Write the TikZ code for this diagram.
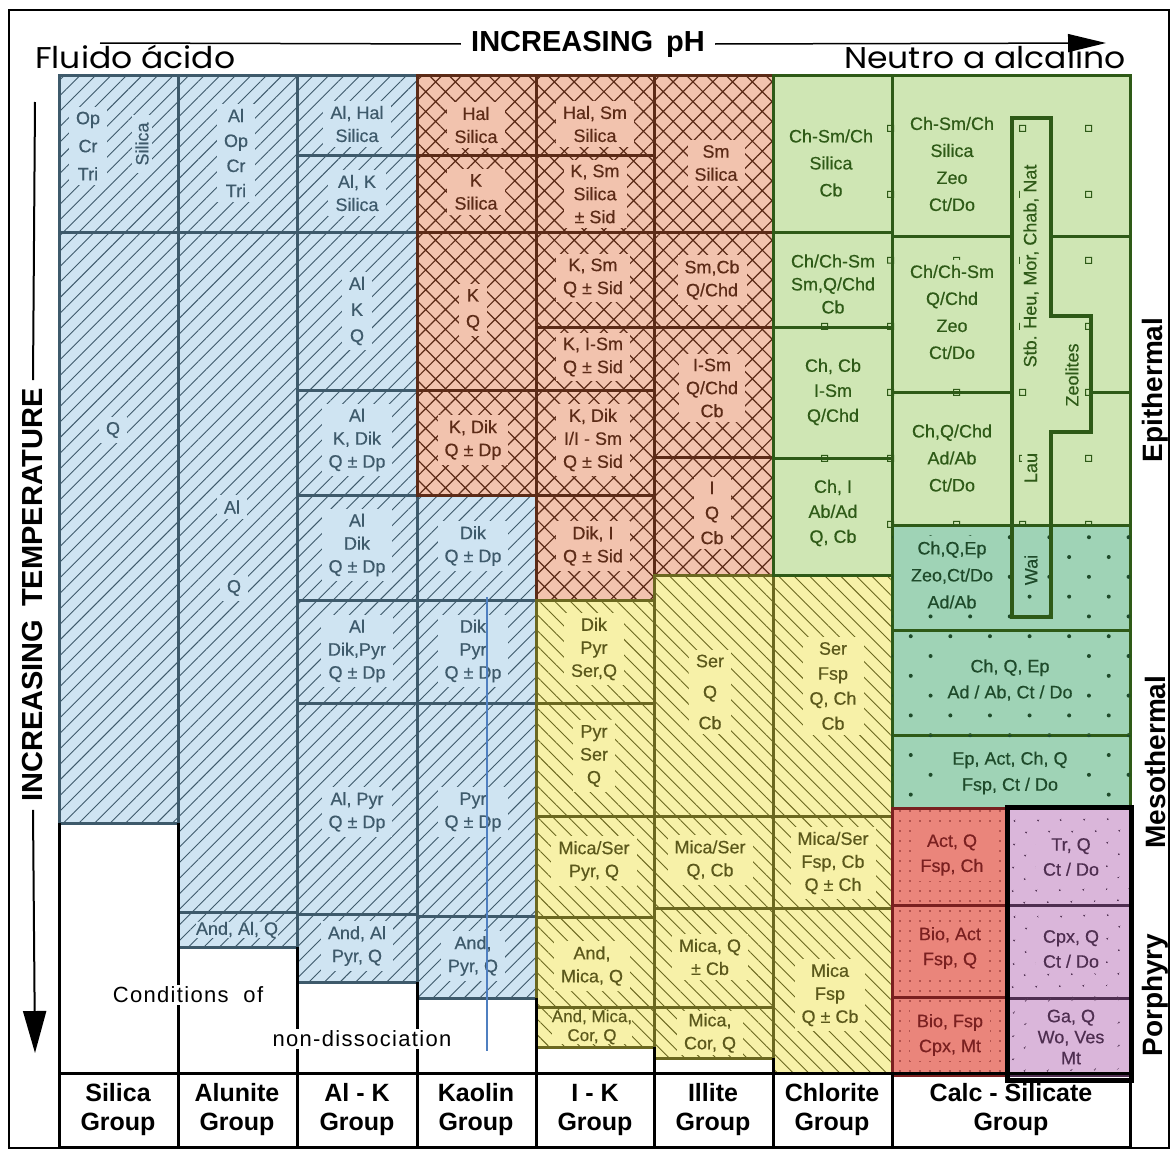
\documentclass[tikz,border=0pt]{standalone}
\usepackage{fontspec}
\setmainfont{Liberation Sans}
\newfontfamily\cellface{Liberation Sans}[FakeBold=0.4]
\newfontfamily\roundfont{Poppins}[FakeStretch=1.1]
\usetikzlibrary{patterns.meta,arrows.meta}

\definecolor{blueFill}{HTML}{CFE4F2}
\definecolor{blueLine}{HTML}{3E5A6B}
\definecolor{pinkFill}{HTML}{F2C3AE}
\definecolor{pinkLine}{HTML}{5C2B17}
\definecolor{yelFill}{HTML}{F7F1A8}
\definecolor{yelLine}{HTML}{6B6820}
\definecolor{grnFill}{HTML}{CFE6B4}
\definecolor{grnLine}{HTML}{2E5A17}
\definecolor{tealFill}{HTML}{9FD3B6}
\definecolor{tealTxt}{HTML}{1E4A2A}
\definecolor{redFill}{HTML}{EA857B}
\definecolor{redLine}{HTML}{7A2020}
\definecolor{purFill}{HTML}{DAB6DA}
\definecolor{purLine}{HTML}{4E2E50}
\definecolor{thinBlue}{HTML}{4F7FC0}

\newcommand\cellfnt{\cellface\fontsize{18}{23}\selectfont}
\newcommand\grpfnt{\fontsize{25}{29}\selectfont\bfseries}

\tikzdeclarepattern{name=grnsq, type=colored,
  bounding box={(0pt,0pt) and (66pt,66pt)}, tile size={(66pt,66pt)},
  code={\draw[grnLine, line width=1pt] (30pt,30pt) rectangle (36pt,36pt);}}

\begin{document}
\begin{tikzpicture}[x=1pt, y=-1pt,
  cell/.style={line width=3pt},
  bluecell/.style={cell, draw=blueLine, fill=blueFill, postaction={pattern={Lines[angle=45,distance=11pt,line width=0.9pt]}, pattern color=blueLine}},
  pinkcell/.style={cell, draw=pinkLine, fill=pinkFill, postaction={pattern={Hatch[angle=45,distance=14pt,line width=1.2pt]}, pattern color=pinkLine}},
  yelcell/.style={cell, draw=yelLine, fill=yelFill, postaction={pattern={Lines[angle=-45,distance=11pt,line width=0.9pt]}, pattern color=yelLine}},
  grncell/.style={cell, draw=grnLine, fill=grnFill, postaction={pattern=grnsq}},
  tealcell/.style={cell, draw=grnLine, fill=tealFill, postaction={pattern={Dots[distance=28pt,angle=45,radius=2pt]}, pattern color=tealTxt}},
  redcell/.style={cell, draw=redLine, fill=redFill, postaction={pattern={Dots[distance=10pt,radius=0.9pt]}, pattern color=redLine}},
  purcell/.style={cell, draw=purLine, fill=purFill, postaction={pattern={Dots[distance=17pt,angle=45,radius=1.1pt]}, pattern color=purLine}},
  lbl/.style={align=center, font=\cellfnt, inner xsep=7pt, inner ysep=5pt},
  txtblue/.style={lbl, text=blueLine, fill=blueFill},
  txtpink/.style={lbl, text=pinkLine, fill=pinkFill},
  txtyel/.style={lbl, text=yelLine!85!black, fill=yelFill},
  txtgrn/.style={lbl, text=grnLine, fill=grnFill},
  txtteal/.style={lbl, text=tealTxt, fill=tealFill},
  txtred/.style={lbl, text=redLine, fill=redFill},
  txtpur/.style={lbl, text=purLine, fill=purFill},
  grp/.style={align=center, font=\grpfnt},
  zone/.style={rotate=90, font=\fontsize{28}{30}\selectfont\bfseries},
  blackline/.style={line width=3pt}]
\useasboundingbox (0,0) rectangle (1172,1151);
\draw[line width=1.5pt] (9,10) rectangle (1169,1148); % frame

% blue cells
\draw[bluecell] (59,75) rectangle (178,232); % silica top
\draw[bluecell] (59,232) rectangle (178,823); % silica Q
\draw[bluecell] (178,75) rectangle (297,232); % alunite top
\draw[bluecell] (178,232) rectangle (297,912); % alunite Al Q
\draw[bluecell] (178,912) rectangle (297,947); % And Al Q
\draw[bluecell] (297,75) rectangle (417,155); % Al-K rows
\draw[bluecell] (297,155) rectangle (417,232);
\draw[bluecell] (297,232) rectangle (417,390);
\draw[bluecell] (297,390) rectangle (417,495);
\draw[bluecell] (297,495) rectangle (417,600);
\draw[bluecell] (297,600) rectangle (417,703);
\draw[bluecell] (297,703) rectangle (417,914);
\draw[bluecell] (297,914) rectangle (417,982);
\draw[bluecell] (417,495) rectangle (536,600); % kaolin rows
\draw[bluecell] (417,600) rectangle (536,703);
\draw[bluecell] (417,703) rectangle (536,916);
\draw[bluecell] (417,916) rectangle (536,998);

% pink cells
\draw[pinkcell] (417,75) rectangle (536,155); % kaolin
\draw[pinkcell] (417,155) rectangle (536,232);
\draw[pinkcell] (417,232) rectangle (536,390);
\draw[pinkcell] (417,390) rectangle (536,495);
\draw[pinkcell] (536,75) rectangle (654,155); % I-K
\draw[pinkcell] (536,155) rectangle (654,232);
\draw[pinkcell] (536,232) rectangle (654,327);
\draw[pinkcell] (536,327) rectangle (654,390);
\draw[pinkcell] (536,390) rectangle (654,495);
\draw[pinkcell] (536,495) rectangle (654,600);
\draw[pinkcell] (654,75) rectangle (773,232); % illite
\draw[pinkcell] (654,232) rectangle (773,327);
\draw[pinkcell] (654,327) rectangle (773,457);
\draw[pinkcell] (654,457) rectangle (773,575);

% yellow cells
\draw[yelcell] (536,600) rectangle (654,703); % I-K
\draw[yelcell] (536,703) rectangle (654,816);
\draw[yelcell] (536,816) rectangle (654,917);
\draw[yelcell] (536,917) rectangle (654,1007);
\draw[yelcell] (536,1007) rectangle (654,1047);
\draw[yelcell] (654,575) rectangle (773,816); % illite
\draw[yelcell] (654,816) rectangle (773,908);
\draw[yelcell] (654,908) rectangle (773,1007);
\draw[yelcell] (654,1007) rectangle (773,1058);
\draw[yelcell] (773,575) rectangle (892,816); % chlorite
\draw[yelcell] (773,816) rectangle (892,908);
\draw[yelcell] (773,908) rectangle (892,1073);

% green cells
\draw[grncell] (773,75) rectangle (892,232); % chlorite
\draw[grncell] (773,232) rectangle (892,327);
\draw[grncell] (773,327) rectangle (892,458);
\draw[grncell] (773,458) rectangle (892,575);
\draw[grncell] (892,75) rectangle (1130,525); % calc-silicate green
\draw[cell, grnLine] (892,236) -- (1012,236) (1051,236) -- (1130,236);
\draw[cell, grnLine] (892,392) -- (1012,392) (1091,392) -- (1130,392);

% teal, red and purple cells
\draw[tealcell] (892,525) rectangle (1130,630);
\draw[tealcell] (892,630) rectangle (1130,735);
\draw[tealcell] (892,735) rectangle (1130,808);
\draw[cell, grnLine, line width=3.5pt] (1012,118) -- (1051,118) -- (1051,316) -- (1091,316)
  -- (1091,432) -- (1051,432) -- (1051,617) -- (1012,617) -- cycle; % zeolites
\draw[redcell] (892,808) rectangle (1007,905);
\draw[redcell] (892,905) rectangle (1007,997);
\draw[redcell] (892,997) rectangle (1007,1075);
\draw[purcell] (1007,808) rectangle (1130,905);
\draw[purcell] (1007,905) rectangle (1130,998);
\draw[purcell] (1007,998) rectangle (1130,1075);
\draw[line width=5pt] (1007,807) rectangle (1131,1080); % porphyry box

% white area and group row
\draw[blackline] (59,823) -- (59,1073);
\draw[blackline] (178,823) -- (178,1073);
\draw[blackline] (297,947) -- (297,1073);
\draw[blackline] (417,982) -- (417,1073);
\draw[blackline] (536,998) -- (536,1073);
\draw[blackline] (654,1047) -- (654,1073);
\draw[blackline] (773,1058) -- (773,1073);
\draw[blackline] (59,1073) rectangle (1130,1147);
\foreach \gx in {178,297,417,536,654,773,892}
  \draw[blackline] (\gx,1073) -- (\gx,1147);

% blue labels
\node[txtblue] (opcrtri) at (88,146) {Op\\[5pt]Cr\\[5pt]Tri};
\node[txtblue, rotate=90, inner ysep=3pt] (silrot) at (142,144) {Silica};
\node[txtblue] (qsil) at (113,430) {Q};
\node[txtblue] (alopcr) at (236,153) {Al\\[2pt]Op\\[2pt]Cr\\[2pt]Tri};
\node[txtblue] (alalu) at (232,507) {Al};
\node[txtblue] (qalu) at (234,588) {Q};
\node[txtblue, inner sep=0pt] (andalq) at (237,930) {And, Al, Q};
\node[txtblue] (alhal) at (357,124) {Al, Hal\\Silica};
\node[txtblue] (alk) at (357,193) {Al, K\\Silica};
\node[txtblue] (alkq) at (357,311) {Al\\[3pt]K\\[3pt]Q};
\node[txtblue] (alkdik) at (357,440) {Al\\K, Dik\\Q ± Dp};
\node[txtblue] (aldik) at (357,545) {Al\\Dik\\Q ± Dp};
\node[txtblue] (aldikpyr) at (357,651) {Al\\Dik,Pyr\\Q ± Dp};
\node[txtblue] (alpyr) at (357,812) {Al, Pyr\\Q ± Dp};
\node[txtblue] (andal) at (357,946) {And, Al\\Pyr, Q};
\node[txtblue] (dikq) at (473,546) {Dik\\Q ± Dp};
\node[txtblue] (dikpyr) at (473,651) {Dik\\Pyr\\Q ± Dp};
\node[txtblue] (pyrq) at (473,812) {Pyr\\Q ± Dp};
\node[txtblue] (andpyr) at (473,956) {And,\\Pyr, Q};

% pink labels
\node[txtpink] (halsil) at (476,125) {Hal\\Silica};
\node[txtpink] (ksil) at (476,192) {K\\Silica};
\node[txtpink] (kq) at (473,310) {K\\[3pt]Q};
\node[txtpink] (kdik) at (473,440) {K, Dik\\Q ± Dp};
\node[txtpink] (halsm) at (595,124) {Hal, Sm\\Silica};
\node[txtpink] (ksmsil) at (595,194) {K, Sm\\Silica\\± Sid};
\node[txtpink] (ksmq) at (593,278) {K, Sm\\Q ± Sid};
\node[txtpink] (kism) at (593,357) {K, I-Sm\\Q ± Sid};
\node[txtpink] (kdikism) at (593,440) {K, Dik\\I/I - Sm\\Q ± Sid};
\node[txtpink] (diki) at (593,546) {Dik, I\\Q ± Sid};
\node[txtpink] (smsil) at (716,163) {Sm\\Silica};
\node[txtpink] (smcb) at (712,280) {Sm,Cb\\Q/Chd};
\node[txtpink] (ismq) at (712,388) {I-Sm\\Q/Chd\\Cb};
\node[txtpink] (iqcb) at (712,513) {I\\[2pt]Q\\[2pt]Cb};

% yellow labels
\node[txtyel] (dikpyrser) at (594,649) {Dik\\Pyr\\Ser,Q};
\node[txtyel] (pyrser) at (594,756) {Pyr\\Ser\\Q};
\node[txtyel] (micaserpyr) at (594,861) {Mica/Ser\\Pyr, Q};
\node[txtyel] (andmica) at (592,966) {And,\\Mica, Q};
\node[txtyel, font=\cellface\fontsize{17}{19}\selectfont, inner sep=0pt] (andmicacor) at (592,1027) {And, Mica,\\Cor, Q};
\node[txtyel] (serqcb) at (710,692) {Ser\\[8pt]Q\\[8pt]Cb};
\node[txtyel] (micaserq) at (710,860) {Mica/Ser\\Q, Cb};
\node[txtyel] (micaq) at (710,957) {Mica, Q\\± Cb};
\node[txtyel, inner ysep=2pt] (micacor) at (710,1033) {Mica,\\Cor, Q};
\node[txtyel] (serfsp) at (833,686) {Ser\\[2pt]Fsp\\[2pt]Q, Ch\\[2pt]Cb};
\node[txtyel] (micaserfsp) at (833,863) {Mica/Ser\\Fsp, Cb\\Q ± Ch};
\node[txtyel] (micafsp) at (830,995) {Mica\\Fsp\\Q ± Cb};

% green labels
\node[txtgrn] (chsmsil) at (831,163) {Ch-Sm/Ch\\[4pt]Silica\\[4pt]Cb};
\node[txtgrn] (chchsm) at (833,284) {Ch/Ch-Sm\\Sm,Q/Chd\\Cb};
\node[txtgrn] (chcb) at (833,392) {Ch, Cb\\[2pt]I-Sm\\[2pt]Q/Chd};
\node[txtgrn] (chi) at (833,513) {Ch, I\\[2pt]Ab/Ad\\[2pt]Q, Cb};
\node[txtgrn] (chsmzeo) at (952,164) {Ch-Sm/Ch\\[4pt]Silica\\[4pt]Zeo\\[4pt]Ct/Do};
\node[txtgrn] (chchsmzeo) at (952,312) {Ch/Ch-Sm\\[4pt]Q/Chd\\[4pt]Zeo\\[4pt]Ct/Do};
\node[txtgrn] (chqchd) at (952,458) {Ch,Q/Chd\\[4pt]Ad/Ab\\[4pt]Ct/Do};
\node[txtgrn, rotate=90, inner ysep=3pt] (stb) at (1031,266) {Stb. Heu, Mor, Chab, Nat};
\node[txtgrn, rotate=90, inner ysep=3pt] (zeol) at (1072,375) {Zeolites};
\node[txtgrn, rotate=90, inner ysep=3pt] (lau) at (1031,468) {Lau};

% teal labels
\node[txtteal, rotate=90, inner ysep=3pt] (wai) at (1031,570) {Wai};
\node[txtteal] (chqep) at (952,575) {Ch,Q,Ep\\[4pt]Zeo,Ct/Do\\[4pt]Ad/Ab};
\node[txtteal] (chqepad) at (1010,680) {Ch, Q, Ep\\[3pt]Ad / Ab, Ct / Do};
\node[txtteal] (epact) at (1010,773) {Ep, Act, Ch, Q\\[3pt]Fsp, Ct / Do};

% red and purple labels
\node[txtred] (actq) at (952,855) {Act, Q\\[2pt]Fsp, Ch};
\node[txtred] (bioact) at (950,948) {Bio, Act\\[2pt]Fsp, Q};
\node[txtred] (biofsp) at (950,1035) {Bio, Fsp\\[2pt]Cpx, Mt};
\node[txtpur] (trq) at (1071,857) {Tr, Q\\[2pt]Ct / Do};
\node[txtpur] (cpxq) at (1071,949) {Cpx, Q\\[2pt]Ct / Do};
\node[txtpur, inner ysep=2pt] (gaq) at (1071,1037) {Ga, Q\\[-2pt]Wo, Ves\\[-2pt]Mt};

% thin blue guide
\coordinate (guideT) at (487,597);
\coordinate (guideB) at (487,1051);
\draw[thinBlue, line width=1.5pt] (guideT) -- (guideB);

% white area texts
\node[fill=white, inner sep=2pt, font=\fontsize{22}{24}\selectfont\addfontfeatures{LetterSpace=6}] (cond) at (188,995) {Conditions\ \ of};
\node[fill=white, inner sep=2pt, font=\fontsize{22}{24}\selectfont\addfontfeatures{LetterSpace=6}] (nondis) at (362,1039) {non-dissociation};

% group row
\node[grp] (gsil) at (118,1110) {Silica\\Group};
\node[grp] (galu) at (237,1110) {Alunite\\Group};
\node[grp] (galk) at (357,1110) {Al - K\\Group};
\node[grp] (gkao) at (476,1110) {Kaolin\\Group};
\node[grp] (gik) at (595,1110) {I - K\\Group};
\node[grp] (gill) at (713,1110) {Illite\\Group};
\node[grp] (gchl) at (832,1110) {Chlorite\\Group};
\node[grp] (gcalc) at (1011,1110) {Calc - Silicate\\Group};

% zones
\node[zone] (epi) at (1155,390) {Epithermal};
\node[zone] (meso) at (1155,762) {Mesothermal};
\node[zone] (por) at (1155,995) {Porphyry};

% pH axis
\node[anchor=base west, inner sep=0pt, font=\fontsize{30}{32}\selectfont\roundfont] (acid) at (35,68) {Fluido ácido};
\node[anchor=base west, inner sep=0pt, font=\fontsize{30}{32}\selectfont\roundfont] (alk) at (844,68) {Neutro a alcalino};
\coordinate (phL) at (100,43);
\coordinate (phR) at (1106,43);
\node[inner sep=10pt, font=\fontsize{29}{31}\selectfont\bfseries] (ph) at (588,44) {INCREASING\, pH};
\draw[line width=1.5pt] (phL) -- (ph.west);
\draw[line width=1.5pt, -{Triangle[length=38pt,width=18pt]}] (ph.east) -- (phR);

% temperature axis
\coordinate (tT) at (35,102);
\coordinate (tB) at (35,1053);
\node[rotate=90, inner sep=8pt, font=\fontsize{29}{31}\selectfont\bfseries] (temp) at (33,595) {INCREASING\, TEMPERATURE};
\draw[line width=2pt] (tT) -- (temp.east);
\draw[line width=2pt, -{Triangle[length=42pt,width=23pt]}] (temp.west) -- (tB);
\end{tikzpicture}
\end{document}
